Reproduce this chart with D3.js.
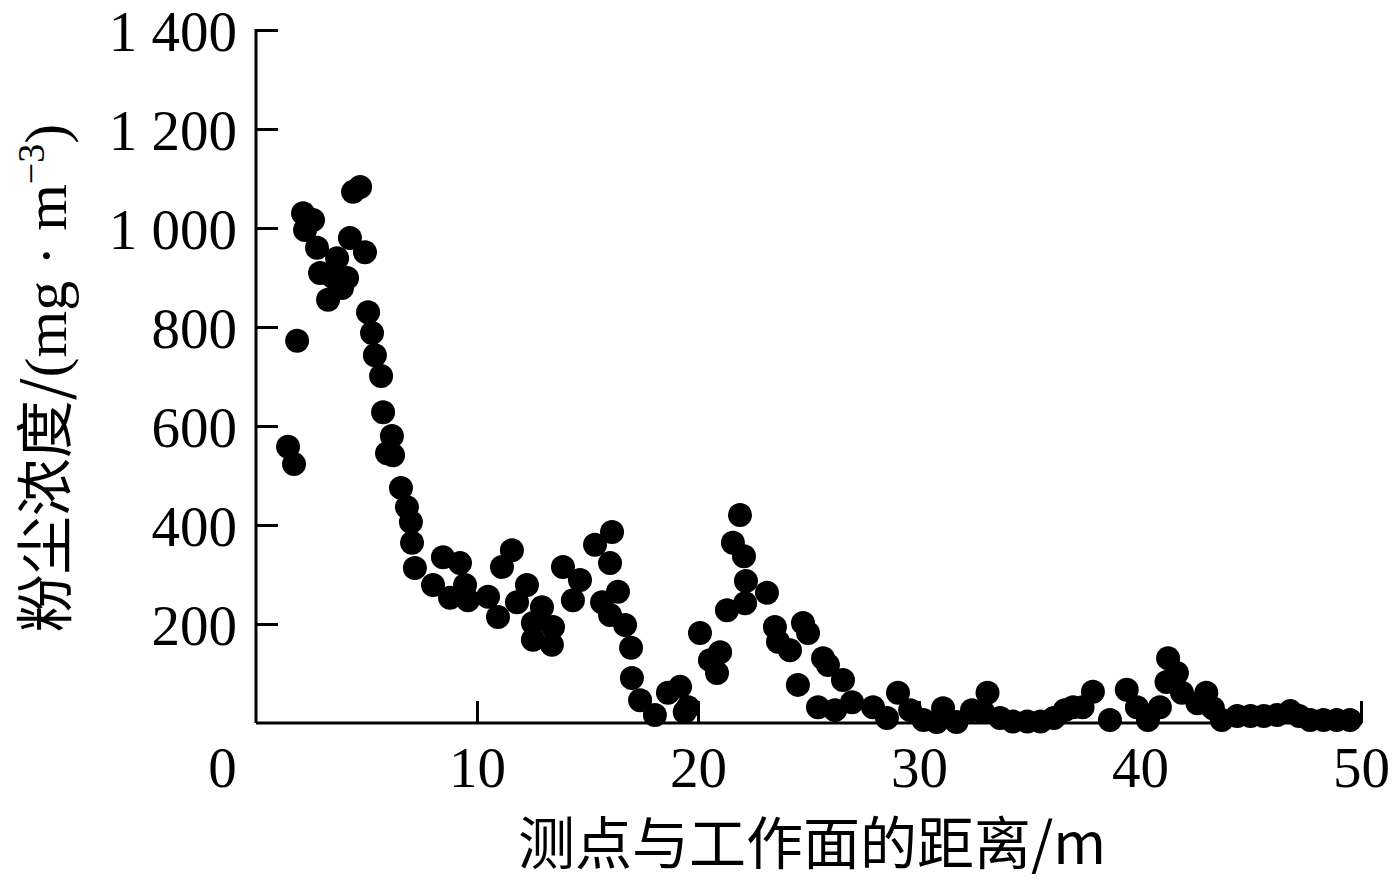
<!DOCTYPE html>
<html><head><meta charset="utf-8">
<script src="https://cdn.jsdelivr.net/npm/d3@7"></script>
<style>body{margin:0;background:#fff}</style>
</head><body>
<svg id="c" width="1394" height="884"></svg>
<script>
const distance = [1.45,1.72,1.86,2.13,2.22,2.58,2.76,2.90,3.26,3.48,3.67,3.89,4.12,4.25,4.39,4.71,4.93,5.07,5.25,5.38,5.66,5.75,6.15,5.93,6.20,6.56,6.83,7.01,7.06,7.19,8.01,8.46,9.23,8.78,9.46,9.59,10.5,10.95,11.13,11.58,11.81,12.26,12.53,12.53,12.94,13.44,13.39,13.89,14.34,14.66,15.34,16.11,16.02,15.66,16.02,16.38,16.7,16.97,17.01,17.38,18.05,18.64,19.19,19.55,19.4,20.09,20.54,20.86,21.0,21.31,21.58,21.9,22.08,22.13,22.17,23.12,23.48,23.62,24.16,24.52,24.75,24.98,25.43,25.66,25.88,26.2,26.56,26.97,27.92,28.55,29.05,29.6,30.2,31.09,30.8,31.7,32.4,32.9,33.1,33.67,34.25,34.9,35.5,36.1,36.6,36.97,37.4,37.87,38.64,39.4,39.86,40.36,40.9,41.2,41.27,41.67,41.9,42.6,43.0,43.3,43.7,44.4,45.0,45.6,46.2,46.8,47.2,47.7,48.3,48.9,49.5];
const concentration = [558,523,772,1030,996,1016,960,909,855,901,939,879,899,980,1073,1083,951,830,788,743,701,628,580,545,541,475,436,406,364,313,279,335,323,253,279,248,255,214,315,349,244,279,202,168,234,194,158,315,248,289,360,386,323,244,218,265,198,152,91,46,16,61,73,32,22,182,127,101,143,228,364,420,337,242,287,263,194,164,147,77,202,182,32,131,117,26,87,42,32,10,61,26,6,30,2,2,26,22,61,10,3,3,3,10,26,32,32,63,6,67,32,6,32,83,131,101,61,40,61,30,6,14,14,14,16,24,14,6,6,6,6];
const xTicks = [0,10,20,30,40,50];
const yTicks = [200,400,600,800,1000,1200,1400];
const yTickLabels = ["200","400","600","800","1 000","1 200","1 400"];
const xTitle = "测点与工作面的距离/m";

const svg = d3.select("#c");
const x = d3.scaleLinear().domain([0,50]).range([256,1361]);
const y = d3.scaleLinear().domain([0,1400]).range([723,30]);
const serif = "'Liberation Serif','Times New Roman',serif";

const gx = svg.append("g").attr("transform","translate(0,723)")
  .call(d3.axisBottom(x).tickValues(xTicks).tickSizeInner(-22).tickSizeOuter(0).tickPadding(24).tickFormat(d3.format("d")));
const gy = svg.append("g").attr("transform","translate(256,0)")
  .call(d3.axisLeft(y).tickValues(yTicks).tickSizeInner(-22).tickSizeOuter(0).tickPadding(19)
    .tickFormat((d,i)=>yTickLabels[i]));
gy.select(".domain").attr("d","M0,723V29");
gx.select(".domain").attr("d","M256,0H1362");
[gx,gy].forEach(g=>{
  g.selectAll(".domain,.tick line").attr("stroke","#000").attr("stroke-width",3);
  g.selectAll("text").attr("font-family",serif).attr("font-size",57).attr("fill","#000");
});
gy.selectAll(".tick text").attr("dy","0.36em");
gx.selectAll(".tick").filter(d=>d===0).select("text").attr("dx",-34);
gx.selectAll(".tick").filter(d=>d===0).select("line").remove();

svg.append("g").selectAll("circle").data(distance).join("circle")
  .attr("cx",(d)=>x(d)).attr("cy",(d,i)=>y(concentration[i])).attr("r",12).attr("fill","#000");

svg.append("text").attr("x",812).attr("y",864).attr("text-anchor","middle")
  .attr("font-family","'Noto Sans CJK SC',sans-serif").attr("font-size",57).attr("fill","#000").text(xTitle);

const yt = svg.append("text").attr("transform","translate(66,378) rotate(-90)").attr("text-anchor","middle")
  .attr("font-family","'Noto Sans CJK SC',sans-serif").attr("font-size",58).attr("fill","#000");
yt.append("tspan").text("粉尘浓度/");
yt.append("tspan").attr("font-family",serif).attr("font-size",60).text("(mg\u00a0·\u00a0m");
yt.append("tspan").attr("font-family",serif).attr("font-size",38).attr("dy",-22).text("−3");
yt.append("tspan").attr("font-family",serif).attr("font-size",60).attr("dy",22).text(")");
</script>
</body></html>
